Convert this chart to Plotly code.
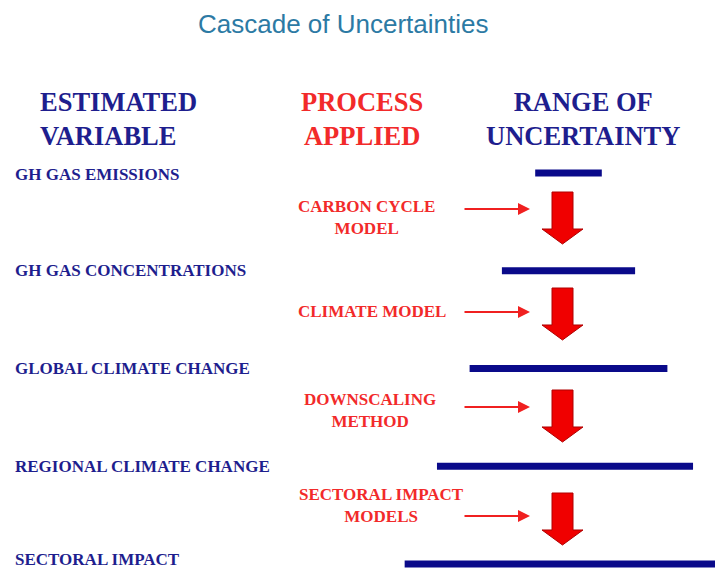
import plotly.graph_objects as go

# ---------------- data ----------------
variables = ["GH GAS EMISSIONS", "GH GAS CONCENTRATIONS", "GLOBAL CLIMATE CHANGE",
             "REGIONAL CLIMATE CHANGE", "SECTORAL IMPACT"]
processes = ["CARBON CYCLE<br>MODEL", "CLIMATE MODEL", "DOWNSCALING<br>METHOD",
             "SECTORAL IMPACT<br>MODELS"]
# range of uncertainty (relative units, centred on 0)
range_low = [-1.0, -2.0, -2.97, -3.95, -4.92]
range_high = [1.0, 2.0, 2.97, 3.74, 4.9]
headers = ["ESTIMATED<br>VARIABLE", "PROCESS<br>APPLIED", "RANGE OF<br>UNCERTAINTY"]
title_text = "Cascade of Uncertainties"

# ---------------- layout constants ----------------
PAGE_W, PAGE_H = 723, 569
OFF = 8                      # default page body margin
W, H = PAGE_W - OFF, PAGE_H - OFF
NAVY = "#1e1e8e"
BAR = "#0a0a8a"
RED = "#f22a2a"
SERIF = "Liberation Serif, Times New Roman, serif"

def px(x):
    return (x - OFF) / W

def py(y):
    return 1 - (y - OFF) / H

# x axis: unit -> page pixels (centre 568.5, 1 unit = 33.3 px)
x_c, x_u = 568.5, 33.3
x_range = [(OFF - x_c) / x_u, (PAGE_W - x_c) / x_u]
# y axis: row index -> page pixels (row0 at 173, step 97.75)
y0, y_step = 173.0, 97.75
y_range = [(PAGE_H - y0) / y_step, (OFF - y0) / y_step]

fig = go.Figure()

for i in range(len(variables)):
    fig.add_trace(go.Scatter(
        x=[range_low[i], range_high[i]], y=[i, i], mode="lines",
        line=dict(color=BAR, width=7), hoverinfo="skip", showlegend=False))

ann = []
# title
ann.append(dict(x=px(343), y=py(24), xref="paper", yref="paper", text=title_text,
                showarrow=False, xanchor="center", yanchor="middle",
                font=dict(family="Liberation Sans, Arial, sans-serif", size=26, color="#2c7aa4")))
# headers
hdr_pos = [(38, "left", NAVY), (362, "center", RED), (583, "center", NAVY)]
for t, (hx, anc, col) in zip(headers, hdr_pos):
    ann.append(dict(x=px(hx), y=py(119), xref="paper", yref="paper", text="<b>%s</b>" % t,
                    showarrow=False, xanchor=anc, yanchor="middle", align=anc,
                    font=dict(family=SERIF, size=26.5, color=col)))
# row labels
label_shift = [-1, 0, 0, 0, 5]
for i, v in enumerate(variables):
    ann.append(dict(x=px(13), y=i, xref="paper", yref="y", text="<b>%s</b>" % v,
                    showarrow=False, xanchor="left", yanchor="middle",
                    yshift=label_shift[i],
                    font=dict(family=SERIF, size=17, color=NAVY)))
# process labels and small arrows
proc_x = [366, 372, 370, 381]
proc_y = [218, 311, 410.5, 505]
arrow_y = [209, 312, 407, 516]
big_top = [192, 288, 390, 493]
shapes = []
for i, p in enumerate(processes):
    ann.append(dict(x=px(proc_x[i]), y=py(proc_y[i]), xref="paper", yref="paper",
                    text="<b>%s</b>" % p, showarrow=False, xanchor="center",
                    yanchor="middle", align="center",
                    font=dict(family=SERIF, size=17, color=RED)))
    ann.append(dict(x=px(530), y=py(arrow_y[i]), xref="paper", yref="paper",
                    ax=-67, ay=0, text="", showarrow=True, arrowhead=2,
                    arrowsize=1.2, arrowwidth=2, arrowcolor="#f02020"))
    t = big_top[i]
    pts = [(552, t), (573, t), (573, t + 37), (583, t + 37), (562.5, t + 52),
           (542, t + 37), (552, t + 37)]
    path = "M " + " L ".join("%.5f,%.5f" % (px(a), py(b)) for a, b in pts) + " Z"
    shapes.append(dict(type="path", path=path, xref="paper", yref="paper",
                       fillcolor="#f00000", line=dict(color="#b00000", width=1)))

fig.update_layout(
    width=W, height=H, margin=dict(l=0, r=0, t=0, b=0),
    paper_bgcolor="white", plot_bgcolor="white",
    xaxis=dict(range=x_range, visible=False, fixedrange=True),
    yaxis=dict(range=y_range, visible=False, fixedrange=True),
    annotations=ann, shapes=shapes, showlegend=False)

fig.write_html("out.html")
